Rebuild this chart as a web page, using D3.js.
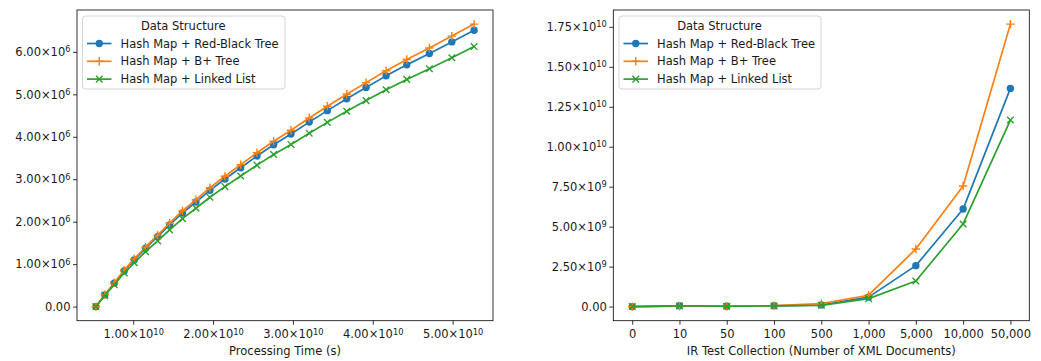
<!DOCTYPE html>
<html>
<head>
<meta charset="utf-8">
<script src="https://cdn.jsdelivr.net/npm/d3@7"></script>
<style>
html,body{margin:0;padding:0;background:#fff;}
svg{display:block;}
text{font-family:"DejaVu Sans",sans-serif;fill:#1a1a1a;}
</style>
</head>
<body>
<svg id="chart" width="1041" height="361"></svg>
<script>
// ---------------- DATA ----------------
const seriesNames = ["Hash Map + Red-Black Tree", "Hash Map + B+ Tree", "Hash Map + Linked List"];
const seriesColors = ["#1f77b4", "#ff7f0e", "#2ca02c"];
const seriesMarkers = ["circle", "plus", "cross"];
const legendTitle = "Data Structure";

// Left chart: processing time (x, shared) vs series values (y)
const leftX = [0.533e10, 0.645e10, 0.762e10, 0.887e10, 1.013e10, 1.155e10, 1.306e10, 1.456e10, 1.617e10, 1.786e10,
               1.961e10, 2.149e10, 2.346e10, 2.550e10, 2.759e10, 2.976e10, 3.204e10, 3.431e10, 3.674e10, 3.916e10,
               4.167e10, 4.426e10, 4.709e10, 4.990e10, 5.269e10];
const leftRedBlack = [0, 0.275e6, 0.551e6, 0.840e6, 1.099e6, 1.374e6, 1.647e6, 1.922e6, 2.205e6, 2.464e6,
                      2.739e6, 3.005e6, 3.271e6, 3.546e6, 3.812e6, 4.064e6, 4.346e6, 4.616e6, 4.894e6, 5.162e6,
                      5.435e6, 5.694e6, 5.962e6, 6.235e6, 6.511e6];
const leftBPlus = [0, 0.281e6, 0.563e6, 0.858e6, 1.123e6, 1.404e6, 1.683e6, 1.964e6, 2.254e6, 2.518e6,
                   2.799e6, 3.071e6, 3.343e6, 3.624e6, 3.896e6, 4.153e6, 4.442e6, 4.718e6, 5.002e6, 5.276e6,
                   5.555e6, 5.819e6, 6.093e6, 6.372e6, 6.654e6];
const leftLinked = [0, 0.259e6, 0.518e6, 0.790e6, 1.033e6, 1.292e6, 1.548e6, 1.807e6, 2.073e6, 2.316e6,
                    2.575e6, 2.825e6, 3.075e6, 3.333e6, 3.583e6, 3.820e6, 4.085e6, 4.339e6, 4.600e6, 4.852e6,
                    5.109e6, 5.352e6, 5.604e6, 5.861e6, 6.125e6];
const leftXLabel = "Processing Time (s)";
const leftXTicks = [1e10, 2e10, 3e10, 4e10, 5e10];
const leftXTickLabels = ["1.00×10^10", "2.00×10^10", "3.00×10^10", "4.00×10^10", "5.00×10^10"];
const leftYTicks = [0, 1e6, 2e6, 3e6, 4e6, 5e6, 6e6];
const leftYTickLabels = ["0.00", "1.00×10^6", "2.00×10^6", "3.00×10^6", "4.00×10^6", "5.00×10^6", "6.00×10^6"];

// Right chart: collection size categories vs series values
const rightCategories = ["0", "10", "50", "100", "500", "1,000", "5,000", "10,000", "50,000"];
const rightRedBlack = [0, 0.05e9, 0.02e9, 0.05e9, 0.10e9, 0.59e9, 2.56e9, 6.10e9, 13.65e9];
const rightBPlus    = [0, 0.03e9, 0.02e9, 0.06e9, 0.18e9, 0.71e9, 3.60e9, 7.54e9, 17.67e9];
const rightLinked   = [0, 0.04e9, 0.02e9, 0.04e9, 0.08e9, 0.50e9, 1.60e9, 5.17e9, 11.67e9];
const rightXLabel = "IR Test Collection (Number of XML Documents)";
const rightYTicks = [0, 2.5e9, 5e9, 7.5e9, 1e10, 1.25e10, 1.5e10, 1.75e10];
const rightYTickLabels = ["0.00", "2.50×10^9", "5.00×10^9", "7.50×10^9", "1.00×10^10", "1.25×10^10", "1.50×10^10", "1.75×10^10"];

// ---------------- DRAWING ----------------
const svg = d3.select("#chart");
const FONT = 11.5;

function padDomain(ext, frac) {
  const span = ext[1] - ext[0];
  return [ext[0] - span * frac, ext[1] + span * frac];
}

function sciText(sel, labels) {
  sel.each(function(d, i) {
    const t = d3.select(this);
    const lab = labels[i];
    t.text(null);
    const parts = lab.split("^");
    t.append("tspan").text(parts[0]);
    if (parts.length > 1) {
      t.append("tspan").attr("dy", "-0.45em").attr("font-size", FONT * 0.72 + "px").text(parts[1]);
    }
  });
}

function drawMarker(g, type, color, x, y) {
  if (type === "circle") {
    g.append("circle").attr("cx", x).attr("cy", y).attr("r", 3.7).attr("fill", color);
  } else if (type === "plus") {
    const s = 4.2;
    g.append("path").attr("d", `M${x - s},${y}H${x + s}M${x},${y - s}V${y + s}`)
      .attr("stroke", color).attr("stroke-width", 1.4).attr("fill", "none");
  } else {
    const s = 3.3;
    g.append("path").attr("d", `M${x - s},${y - s}L${x + s},${y + s}M${x - s},${y + s}L${x + s},${y - s}`)
      .attr("stroke", color).attr("stroke-width", 1.4).attr("fill", "none");
  }
}

function drawLegend(g, x0, y0, w) {
  const h = 73;
  g.append("rect").attr("x", x0).attr("y", y0).attr("width", w).attr("height", h)
    .attr("rx", 3).attr("fill", "#fff").attr("fill-opacity", 0.8)
    .attr("stroke", "#d5d5d5").attr("stroke-width", 1);
  g.append("text").attr("x", x0 + w / 2 - 0.5).attr("y", y0 + 10).attr("dy", "0.35em")
    .attr("text-anchor", "middle").attr("font-size", FONT + "px").text(legendTitle);
  seriesNames.forEach((name, i) => {
    const yy = y0 + 27.5 + i * 17.8;
    const lx0 = x0 + 4.5, lx1 = x0 + 29;
    g.append("line").attr("x1", lx0).attr("x2", lx1).attr("y1", yy).attr("y2", yy)
      .attr("stroke", seriesColors[i]).attr("stroke-width", 1.7);
    drawMarker(g, seriesMarkers[i], seriesColors[i], (lx0 + lx1) / 2, yy);
    g.append("text").attr("x", x0 + 38).attr("y", yy).attr("dy", "0.35em")
      .attr("font-size", FONT + "px").text(name);
  });
}

function styleAxis(g) {
  g.selectAll("path.domain").remove();
  g.selectAll(".tick line").attr("stroke", "#000").attr("stroke-width", 0.8);
  g.selectAll(".tick text").attr("font-family", "DejaVu Sans").attr("font-size", FONT + "px").attr("fill", "#1a1a1a");
  g.attr("font-family", null).attr("font-size", null);
}

// ----- Left chart -----
(function() {
  const L = 77, R = 493, T = 10, B = 320.7;
  const allY = leftRedBlack.concat(leftBPlus, leftLinked);
  const x = d3.scaleLinear().domain(padDomain(d3.extent(leftX), 0.05)).range([L, R]);
  const y = d3.scaleLinear().domain(padDomain(d3.extent(allY), 0.05)).range([B, T]);
  const g = svg.append("g");

  const xa = g.append("g").attr("transform", `translate(0,${B})`)
    .call(d3.axisBottom(x).tickValues(leftXTicks).tickSize(4).tickPadding(5.5).tickSizeOuter(0));
  styleAxis(xa);
  sciText(xa.selectAll(".tick text"), leftXTickLabels);

  const ya = g.append("g").attr("transform", `translate(${L},0)`)
    .call(d3.axisLeft(y).tickValues(leftYTicks).tickSize(4).tickPadding(2.5).tickSizeOuter(0));
  styleAxis(ya);
  sciText(ya.selectAll(".tick text"), leftYTickLabels);

  const series = [leftRedBlack, leftBPlus, leftLinked];
  series.forEach((vals, si) => {
    const pts = leftX.map((xv, i) => [x(xv), y(vals[i])]);
    g.append("path").attr("d", d3.line()(pts)).attr("fill", "none")
      .attr("stroke", seriesColors[si]).attr("stroke-width", 1.7).attr("stroke-linejoin", "round");
    const mg = g.append("g");
    pts.forEach(p => drawMarker(mg, seriesMarkers[si], seriesColors[si], p[0], p[1]));
  });

  g.append("rect").attr("x", L).attr("y", T).attr("width", R - L).attr("height", B - T)
    .attr("fill", "none").attr("stroke", "#000").attr("stroke-width", 0.8);

  g.append("text").attr("x", (L + R) / 2).attr("y", 351).attr("dy", "0.35em")
    .attr("text-anchor", "middle").attr("font-size", FONT + "px").text(leftXLabel);

  drawLegend(g, 82.5, 16, 202.5);
})();

// ----- Right chart -----
(function() {
  const L = 613.3, R = 1029.3, T = 10, B = 320.7;
  const allY = rightRedBlack.concat(rightBPlus, rightLinked);
  const n = rightCategories.length;
  const xi = d3.scaleLinear().domain(padDomain([0, n - 1], 0.05)).range([L, R]);
  const x = d3.scalePoint().domain(rightCategories).range([xi(0), xi(n - 1)]);
  const y = d3.scaleLinear().domain(padDomain(d3.extent(allY), 0.05)).range([B, T]);
  const g = svg.append("g");

  const xa = g.append("g").attr("transform", `translate(0,${B})`)
    .call(d3.axisBottom(x).tickSize(4).tickPadding(5.5).tickSizeOuter(0));
  styleAxis(xa);

  const ya = g.append("g").attr("transform", `translate(${L},0)`)
    .call(d3.axisLeft(y).tickValues(rightYTicks).tickSize(4).tickPadding(2.5).tickSizeOuter(0));
  styleAxis(ya);
  sciText(ya.selectAll(".tick text"), rightYTickLabels);

  const series = [rightRedBlack, rightBPlus, rightLinked];
  series.forEach((vals, si) => {
    const pts = rightCategories.map((c, i) => [x(c), y(vals[i])]);
    g.append("path").attr("d", d3.line()(pts)).attr("fill", "none")
      .attr("stroke", seriesColors[si]).attr("stroke-width", 1.7).attr("stroke-linejoin", "round");
    const mg = g.append("g");
    pts.forEach(p => drawMarker(mg, seriesMarkers[si], seriesColors[si], p[0], p[1]));
  });

  g.append("rect").attr("x", L).attr("y", T).attr("width", R - L).attr("height", B - T)
    .attr("fill", "none").attr("stroke", "#000").attr("stroke-width", 0.8);

  g.append("text").attr("x", (L + R) / 2).attr("y", 351).attr("dy", "0.35em")
    .attr("text-anchor", "middle").attr("font-size", FONT + "px").text(rightXLabel);

  drawLegend(g, 619, 16, 202);
})();
</script>
</body>
</html>
